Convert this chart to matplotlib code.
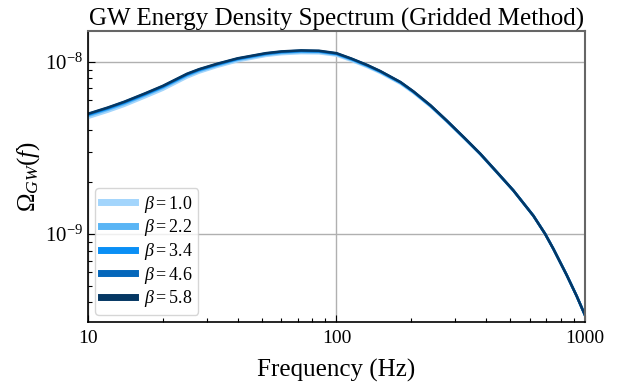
import numpy as np
import matplotlib
matplotlib.use('Agg')
import matplotlib.pyplot as plt
from matplotlib.ticker import FuncFormatter, NullFormatter

plt.rcParams['font.family'] = ['Liberation Serif', 'DejaVu Serif']
plt.rcParams['mathtext.fontset'] = 'custom'
plt.rcParams['mathtext.rm'] = 'Liberation Serif'
plt.rcParams['mathtext.it'] = 'Liberation Serif:italic'

# frequency grid (Hz) and log10(Omega_GW)
freq = [10, 12, 14, 17, 20, 25, 28, 33, 40, 52, 60, 72, 85, 100, 115, 133,
        150, 181, 204, 239, 278, 330, 379, 443, 515, 620, 691, 746, 844, 926, 1000]

b10 = [-8.326, -8.290, -8.256, -8.206, -8.163, -8.092, -8.063, -8.030, -7.997, -7.966,
       -7.956, -7.950, -7.951, -7.964, -7.995, -8.031, -8.065, -8.128, -8.181, -8.261,
       -8.348, -8.452, -8.538, -8.645, -8.749, -8.895, -8.999, -9.086, -9.238, -9.360, -9.471]
b22 = [-8.315, -8.279, -8.245, -8.195, -8.152, -8.082, -8.054, -8.022, -7.989, -7.959,
       -7.949, -7.943, -7.944, -7.958, -7.989, -8.026, -8.060, -8.124, -8.177, -8.257,
       -8.345, -8.450, -8.536, -8.644, -8.748, -8.894, -8.999, -9.086, -9.238, -9.360, -9.471]
b34 = [-8.308, -8.272, -8.238, -8.189, -8.146, -8.076, -8.048, -8.017, -7.984, -7.954,
       -7.944, -7.938, -7.940, -7.954, -7.985, -8.022, -8.057, -8.120, -8.174, -8.255,
       -8.343, -8.448, -8.535, -8.642, -8.747, -8.894, -8.999, -9.086, -9.238, -9.360, -9.471]
b46 = [-8.304, -8.268, -8.234, -8.185, -8.142, -8.072, -8.045, -8.014, -7.982, -7.952,
       -7.942, -7.936, -7.938, -7.952, -7.983, -8.020, -8.055, -8.119, -8.173, -8.254,
       -8.342, -8.447, -8.534, -8.642, -8.747, -8.894, -8.999, -9.086, -9.238, -9.360, -9.471]
b58 = [-8.302, -8.266, -8.232, -8.183, -8.140, -8.070, -8.043, -8.012, -7.980, -7.950,
       -7.940, -7.934, -7.936, -7.950, -7.982, -8.019, -8.054, -8.118, -8.172, -8.253,
       -8.342, -8.447, -8.534, -8.642, -8.747, -8.894, -8.999, -9.086, -9.238, -9.360, -9.471]

betas = ['1.0', '2.2', '3.4', '4.6', '5.8']
series = [b10, b22, b34, b46, b58]
colors = ['#a3d5fc', '#5ab5f5', '#0a8ff5', '#0567bb', '#053763']

fig, ax = plt.subplots(figsize=(6.31, 3.88), dpi=100)
fig.subplots_adjust(left=0.1395, right=0.927, top=0.919, bottom=0.170)

for b, s, c in zip(betas, series, colors):
    ax.plot(freq, 10 ** np.array(s), color=c, lw=1.8, label=r'$\beta = %s$' % b)

ax.set_xscale('log')
ax.set_yscale('log')
ax.set_xlim(10, 1000)
ax.set_ylim(3.08e-10, 1.5e-8)
ax.set_xticks([10, 100, 1000])
ax.set_yticks([1e-9, 1e-8])

ax.xaxis.set_major_formatter(FuncFormatter(lambda v, p: '%g' % v))
ax.xaxis.set_minor_formatter(NullFormatter())
ax.yaxis.set_minor_formatter(NullFormatter())
ax.grid(True, which='major', color='#b0b0b0', lw=1.0)
ax.tick_params(which='both', direction='in', top=False, right=False)
ax.tick_params(axis='x', labelsize=14, pad=6)
ax.tick_params(axis='y', labelsize=15)
ax.tick_params(which='major', length=5, width=0.8)
ax.tick_params(which='minor', length=3, width=0.8)

for side in ['left', 'bottom']:
    ax.spines[side].set_color('black')
    ax.spines[side].set_linewidth(1.2)
for side in ['top', 'right']:
    ax.spines[side].set_color('#666666')
    ax.spines[side].set_linewidth(1.5)

ax.set_title('GW Energy Density Spectrum (Gridded Method)', fontsize=18, pad=4)
ax.set_xlabel('Frequency (Hz)', fontsize=18, labelpad=8)
ax.set_ylabel(r'$\Omega_{GW}(f)$', fontsize=18, labelpad=2)

leg = ax.legend(loc='lower left', fontsize=13, handlelength=1.9, labelspacing=0.15,
                borderpad=0.3, handletextpad=0.5, borderaxespad=0.4)
for line in leg.get_lines():
    line.set_linewidth(5)

plt.savefig('out.png', dpi=100)
